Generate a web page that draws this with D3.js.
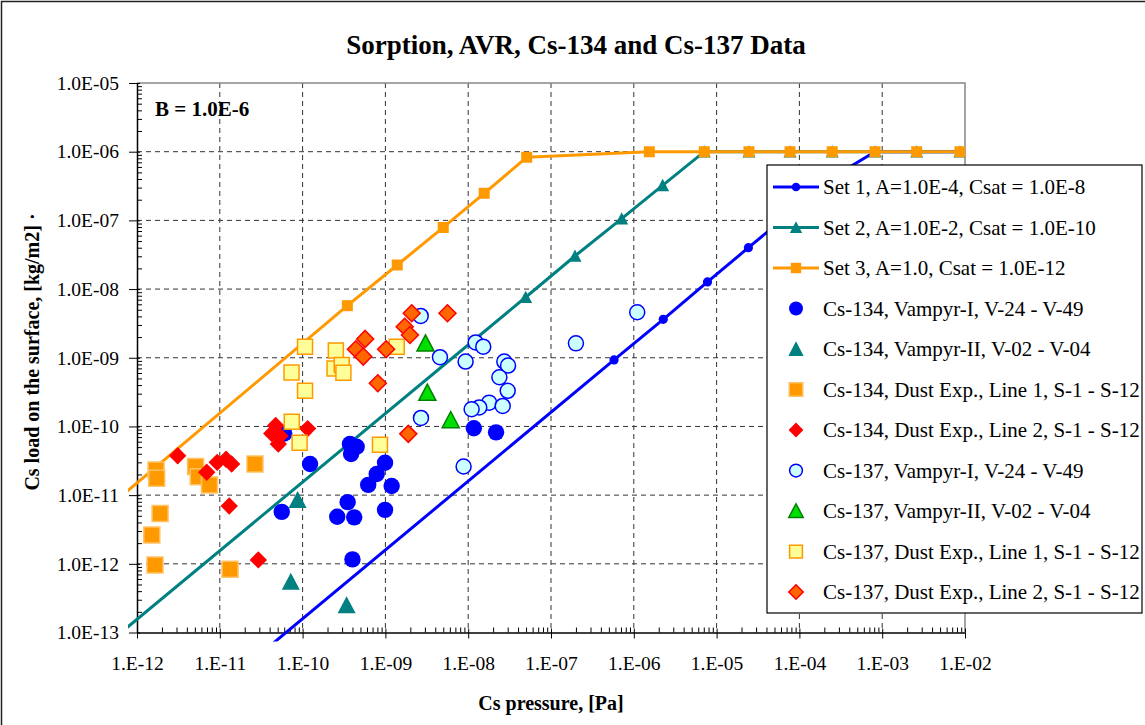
<!DOCTYPE html>
<html>
<head>
<meta charset="utf-8">
<script src="https://cdn.jsdelivr.net/npm/d3@7"></script>
<style>
  body { margin: 0; background: #fff; }
  text { font-family: "Liberation Serif", "Times New Roman", serif; }
</style>
</head>
<body>
<script>
// --- data ---
const xTickValues = [1e-12, 1e-11, 1e-10, 1e-9, 1e-8, 1e-7, 1e-6, 1e-5, 1e-4, 1e-3, 1e-2];
const xTickLabels = ["1.E-12", "1.E-11", "1.E-10", "1.E-09", "1.E-08", "1.E-07", "1.E-06", "1.E-05", "1.E-04", "1.E-03", "1.E-02"];
const yTickValues = [1e-13, 1e-12, 1e-11, 1e-10, 1e-9, 1e-8, 1e-7, 1e-6, 1e-5];
const yTickLabels = ["1.0E-13", "1.0E-12", "1.0E-11", "1.0E-10", "1.0E-09", "1.0E-08", "1.0E-07", "1.0E-06", "1.0E-05"];

// model curves (first point lies just outside the plot)
const set1X = [3.16e-11, 5.77e-7, 2.27e-6, 7.76e-6, 2.42e-5, 7.7e-5, 2.49e-4, 8.2e-4, 2.61e-3, 8.7e-3];
const set1Y = [5.0e-14, 9.29e-10, 3.63e-9, 1.27e-8, 4.0e-8, 1.28e-7, 4.2e-7, 1e-6, 1e-6, 1e-6];
const set2X = [6.3e-13, 4.94e-8, 1.95e-7, 7.14e-7, 2.23e-6, 7.1e-6, 2.46e-5, 7.7e-5, 2.49e-4, 8.2e-4, 2.61e-3, 8.7e-3];
const set2Y = [9.8e-14, 7.6e-9, 3.03e-8, 1.06e-7, 3.24e-7, 1e-6, 1e-6, 1e-6, 1e-6, 1e-6, 1e-6, 1e-6];
const set3X = [6.3e-13, 3.47e-10, 1.39e-9, 5.0e-9, 1.56e-8, 5.09e-8, 1.54e-6, 7.1e-6, 2.46e-5, 7.7e-5, 2.49e-4, 8.2e-4, 2.61e-3, 8.7e-3];
const set3Y = [9.4e-12, 5.73e-9, 2.24e-8, 7.9e-8, 2.48e-7, 8.28e-7, 1e-6, 1e-6, 1e-6, 1e-6, 1e-6, 1e-6, 1e-6, 1e-6];

// measurements [pressure, load]
const cs134VampI = [[6.0e-11, 7.9e-11], [1.23e-10, 2.84e-11], [5.6e-11, 5.7e-12], [3.73e-10, 5.55e-11], [4.5e-10, 5.07e-11],
  [3.85e-10, 3.97e-11], [9.9e-10, 2.96e-11], [7.85e-10, 2.03e-11], [6.2e-10, 1.41e-11], [1.19e-9, 1.36e-11],
  [3.5e-10, 7.9e-12], [2.62e-10, 4.85e-12], [4.2e-10, 4.75e-12], [9.9e-10, 6.1e-12], [4.0e-10, 1.16e-12],
  [1.17e-8, 9.4e-11], [2.17e-8, 8.2e-11]];
const cs134VampII = [[8.7e-11, 8.5e-12], [7.2e-11, 5.5e-13], [3.4e-10, 2.5e-13]];
const cs134Dust1 = [[1.70e-12, 2.32e-11], [1.73e-12, 1.76e-11], [5.1e-12, 2.6e-11], [5.5e-12, 1.85e-11], [7.5e-12, 1.41e-11],
  [1.9e-12, 5.4e-12], [1.51e-12, 2.63e-12], [1.65e-12, 9.6e-13], [1.33e-11, 8.3e-13], [2.66e-11, 2.84e-11]];
const cs134Dust2 = [[3.1e-12, 3.75e-11], [6.95e-12, 2.15e-11], [9.3e-12, 3.0e-11], [1.19e-11, 3.33e-11], [1.39e-11, 2.84e-11],
  [1.3e-11, 6.95e-12], [2.92e-11, 1.14e-12], [4.73e-11, 1.03e-10], [4.24e-11, 7.9e-11], [5.33e-11, 7.26e-11],
  [5.09e-11, 5.55e-11], [1.15e-10, 9.3e-11]];
const cs137VampI = [[2.67e-9, 4.06e-9], [4.56e-9, 1.02e-9], [9.3e-9, 8.8e-10], [1.23e-8, 1.67e-9], [1.52e-8, 1.45e-9],
  [2.73e-8, 8.8e-10], [3.03e-8, 7.7e-10], [2.38e-8, 5.2e-10], [3.0e-8, 3.3e-10], [1.79e-8, 2.22e-10],
  [1.36e-8, 1.89e-10], [1.1e-8, 1.78e-10], [2.61e-8, 1.99e-10], [2.69e-9, 1.33e-10], [8.8e-9, 2.61e-11],
  [2.0e-7, 1.62e-9], [1.1e-6, 4.6e-9]];
const cs137VampII = [[3.05e-9, 1.62e-9], [3.21e-9, 3.1e-10], [6.15e-9, 1.24e-10]];
const cs137Dust1 = [[1.07e-10, 1.45e-9], [7.35e-11, 6.1e-10], [1.07e-10, 3.3e-10], [7.4e-11, 1.17e-10], [9.2e-11, 5.8e-11],
  [2.52e-10, 1.28e-9], [2.43e-10, 7.0e-10], [2.97e-10, 7.85e-10], [3.11e-10, 6.05e-10], [1.37e-9, 1.45e-9],
  [8.6e-10, 5.4e-11]];
const cs137Dust2 = [[2.08e-9, 4.44e-9], [5.62e-9, 4.44e-9], [1.71e-9, 2.83e-9], [1.98e-9, 2.14e-9], [5.7e-10, 1.88e-9],
  [4.4e-10, 1.33e-9], [5.4e-10, 1.04e-9], [1.02e-9, 1.33e-9], [8.1e-10, 4.25e-10], [1.89e-9, 7.8e-11]];

const legendLabels = [
  "Set 1, A=1.0E-4, Csat = 1.0E-8",
  "Set 2, A=1.0E-2, Csat = 1.0E-10",
  "Set 3, A=1.0, Csat = 1.0E-12",
  "Cs-134, Vampyr-I, V-24 - V-49",
  "Cs-134, Vampyr-II, V-02 - V-04",
  "Cs-134, Dust Exp., Line 1, S-1 - S-12",
  "Cs-134, Dust Exp., Line 2, S-1 - S-12",
  "Cs-137, Vampyr-I, V-24 - V-49",
  "Cs-137, Vampyr-II, V-02 - V-04",
  "Cs-137, Dust Exp., Line 1, S-1 - S-12",
  "Cs-137, Dust Exp., Line 2, S-1 - S-12"
];

// --- layout ---
const W = 1145, H = 725;
const pL = 137, pR = 965, pT = 83, pB = 632.5;

const svg = d3.select("body").append("svg").attr("width", W).attr("height", H);

svg.append("rect").attr("x", 1.5).attr("y", 1.5).attr("width", W + 20).attr("height", H + 20)
  .attr("fill", "#fff").attr("stroke", "#222").attr("stroke-width", 1.5);

const x = d3.scaleLog().domain([1e-12, 1e-2]).range([pL, pR]);
const y = d3.scaleLog().domain([1e-13, 1e-5]).range([pB, pT]);

// grid
svg.append("g").selectAll("line").data(xTickValues.slice(1, -1)).enter().append("line")
  .attr("x1", d => x(d)).attr("x2", d => x(d)).attr("y1", pT).attr("y2", pB)
  .attr("stroke", "#333").attr("stroke-dasharray", "5,4");
svg.append("g").selectAll("line").data(yTickValues.slice(1, -1)).enter().append("line")
  .attr("y1", d => y(d)).attr("y2", d => y(d)).attr("x1", pL).attr("x2", pR)
  .attr("stroke", "#333").attr("stroke-dasharray", "5,4");

// plot border top/right
svg.append("path").attr("d", `M${pL},${pT}H${pR}V${pB}`)
  .attr("fill", "none").attr("stroke", "#888").attr("stroke-width", 1.5);

// minor ticks
function minors(lo, hi) {
  const out = [];
  for (let e = Math.round(Math.log10(lo)); e < Math.round(Math.log10(hi)); e++)
    for (let m = 2; m <= 9; m++) out.push(m * Math.pow(10, e));
  return out;
}

const yAxis = d3.axisLeft(y).tickValues(yTickValues).tickFormat((d, i) => yTickLabels[i])
  .tickSizeInner(8).tickSizeOuter(0).tickPadding(10);
const gy = svg.append("g").attr("transform", `translate(${pL},0)`).call(yAxis);
gy.call(g => g.select(".domain").attr("stroke", "#000").attr("stroke-width", 1.5));
gy.selectAll("text").attr("font-family", "Liberation Serif").attr("font-size", 19.5).attr("fill", "#000");
svg.append("g").attr("transform", `translate(${pL},0)`)
  .call(d3.axisLeft(y).tickValues(minors(1e-13, 1e-5)).tickFormat("").tickSizeInner(-5).tickSizeOuter(0))
  .call(g => g.select(".domain").remove());
svg.append("g").attr("transform", `translate(${pL},0)`)
  .call(d3.axisLeft(y).tickValues(yTickValues).tickFormat("").tickSizeInner(-3).tickSizeOuter(0))
  .call(g => g.select(".domain").remove());

const xAxis = d3.axisBottom(x).tickValues(xTickValues).tickFormat((d, i) => xTickLabels[i])
  .tickSizeInner(6).tickSizeOuter(0).tickPadding(18);
const gx = svg.append("g").attr("transform", `translate(0,${pB})`).call(xAxis);
gx.call(g => g.select(".domain").attr("stroke", "#000").attr("stroke-width", 1.5));
gx.selectAll("text").attr("font-family", "Liberation Serif").attr("font-size", 19.5).attr("fill", "#000");
svg.append("g").attr("transform", `translate(0,${pB})`)
  .call(d3.axisBottom(x).tickValues(minors(1e-12, 1e-2)).tickFormat("").tickSizeInner(-5).tickSizeOuter(0))
  .call(g => g.select(".domain").remove());
svg.append("g").attr("transform", `translate(0,${pB})`)
  .call(d3.axisBottom(x).tickValues(xTickValues).tickFormat("").tickSizeInner(-4).tickSizeOuter(0))
  .call(g => g.select(".domain").remove());

// marker shapes, s = half size
function shape(kind, s) {
  if (kind === "circle") return `M${s},0A${s},${s} 0 1,1 ${-s},0A${s},${s} 0 1,1 ${s},0Z`;
  if (kind === "square") return `M${-s},${-s}H${s}V${s}H${-s}Z`;
  if (kind === "triangle") return `M0,${-s}L${s},${s * 0.9}L${-s},${s * 0.9}Z`;
  return `M0,${-s}L${s},0L0,${s}L${-s},0Z`;
}

// curves
svg.append("clipPath").attr("id", "lineclip").append("rect")
  .attr("x", 128).attr("y", pT).attr("width", pR - 128).attr("height", pB - pT + 9);

const curves = [
  { xs: set1X, ys: set1Y, color: "#0000ff", kind: "circle", s: 4.6 },
  { xs: set2X, ys: set2Y, color: "#008080", kind: "triangle", s: 6.5 },
  { xs: set3X, ys: set3Y, color: "#ff9900", kind: "square", s: 5.5 }
];
const line = d3.line().x(d => x(d[0])).y(d => y(d[1]));
const gc = svg.append("g").attr("clip-path", "url(#lineclip)");
curves.forEach(c => {
  const pts = c.xs.map((v, i) => [v, c.ys[i]]);
  gc.append("path").attr("d", line(pts)).attr("fill", "none")
    .attr("stroke", c.color).attr("stroke-width", 3);
  gc.selectAll(null).data(pts).enter().append("path")
    .attr("transform", d => `translate(${x(d[0])},${y(d[1])})`)
    .attr("d", shape(c.kind, c.s)).attr("fill", c.color);
});

// scatter series
const series = [
  { data: cs134VampI, kind: "circle", s: 8.2, fill: "#0000ff", stroke: "none" },
  { data: cs134VampII, kind: "triangle", s: 9, fill: "#008080", stroke: "none" },
  { data: cs134Dust1, kind: "square", s: 8, fill: "#ff9900", stroke: "#ffc266" },
  { data: cs134Dust2, kind: "diamond", s: 8.7, fill: "#ff0000", stroke: "none" },
  { data: cs137VampI, kind: "circle", s: 7.5, fill: "#ccffff", stroke: "#0000ff" },
  { data: cs137VampII, kind: "triangle", s: 8.5, fill: "#00e000", stroke: "#008000" },
  { data: cs137Dust1, kind: "square", s: 7.5, fill: "#ffff99", stroke: "#ff9900" },
  { data: cs137Dust2, kind: "diamond", s: 8.5, fill: "#ff6600", stroke: "#ff0000" }
];
series.forEach(sr => {
  svg.append("g").selectAll("path").data(sr.data).enter().append("path")
    .attr("transform", d => `translate(${x(d[0])},${y(d[1])})`)
    .attr("d", shape(sr.kind, sr.s))
    .attr("fill", sr.fill).attr("stroke", sr.stroke).attr("stroke-width", 1.5);
});

// B label
svg.append("text").attr("x", 155).attr("y", 116).attr("font-family", "Liberation Sans")
  .attr("font-weight", "bold").attr("font-size", 21).text("B = 1.0E-6");

// legend
svg.append("clipPath").attr("id", "legclip").append("rect")
  .attr("x", 767).attr("y", 165).attr("width", 375).attr("height", 448);
svg.append("rect").attr("x", 767).attr("y", 165).attr("width", 375).attr("height", 448)
  .attr("fill", "#fff").attr("stroke", "#000").attr("stroke-width", 1.2);
const leg = svg.append("g").attr("clip-path", "url(#legclip)");
const legStyles = curves.map(c => ({ line: c.color, kind: c.kind, s: c.s - 0.3, fill: c.color, stroke: "none" }))
  .concat(series.map(sr => ({ line: null, kind: sr.kind, s: sr.s * 0.85, fill: sr.fill, stroke: sr.stroke })));
legendLabels.forEach((lab, i) => {
  const ry = 187 + i * 40.5;
  const st = legStyles[i];
  if (st.line) leg.append("line").attr("x1", 773).attr("x2", 819).attr("y1", ry).attr("y2", ry)
    .attr("stroke", st.line).attr("stroke-width", 3);
  leg.append("path").attr("transform", `translate(796,${ry})`).attr("d", shape(st.kind, st.s))
    .attr("fill", st.fill).attr("stroke", st.stroke).attr("stroke-width", 1.5);
  leg.append("text").attr("x", 823).attr("y", ry + 7).attr("font-size", 21).text(lab);
});

// titles
svg.append("text").attr("x", 576).attr("y", 54).attr("text-anchor", "middle")
  .attr("font-weight", "bold").attr("font-size", 27).text("Sorption, AVR, Cs-134 and Cs-137 Data");
svg.append("text").attr("x", 551).attr("y", 710).attr("text-anchor", "middle")
  .attr("font-weight", "bold").attr("font-size", 20).text("Cs pressure, [Pa]");
svg.append("text").attr("transform", "translate(39,352) rotate(-90)").attr("text-anchor", "middle")
  .attr("font-weight", "bold").attr("font-size", 20).text("Cs load on the surface, [kg/m2]  \u00b7");
</script>
</body>
</html>
